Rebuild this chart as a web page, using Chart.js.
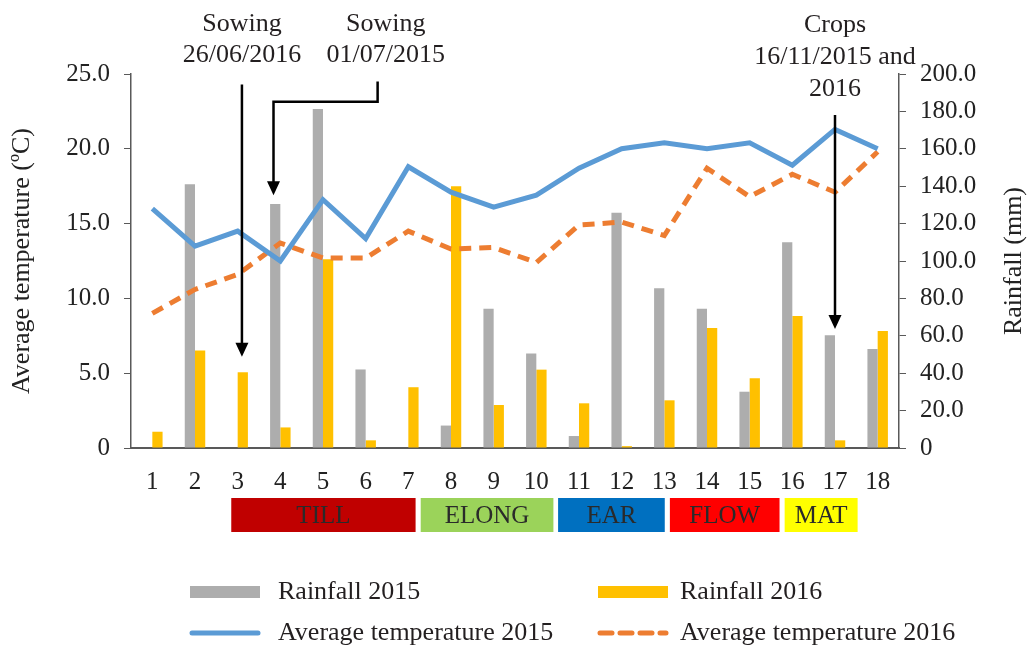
<!DOCTYPE html>
<html>
<head>
<meta charset="utf-8">
<script src="https://cdn.jsdelivr.net/npm/chart.js@4/dist/chart.umd.min.js"></script>
<style>
  html, body { margin: 0; padding: 0; background: #fff; }
  #box { width: 1030px; height: 648px; }
</style>
</head>
<body>
<div id="box"><canvas id="myChart"></canvas></div>
<script>
// dados
const semanas = ['1','2','3','4','5','6','7','8','9','10','11','12','13','14','15','16','17','18'];
const chuva2015 = [0, 141, 0, 130.5, 181.3, 42, 0, 12, 74.5, 50.6, 6.4, 125.8, 85.4, 74.5, 30.1, 110, 60.3, 52.9];
const chuva2016 = [8.7, 52.2, 40.5, 11, 101, 4.1, 32.5, 140, 23, 41.9, 23.9, 1, 25.5, 64.2, 37.3, 70.6, 4.1, 62.6];
const temp2015 = [16.0, 13.5, 14.5, 12.5, 16.6, 14.0, 18.8, 17.1, 16.1, 16.9, 18.7, 20.0, 20.4, 20.0, 20.4, 18.9, 21.3, 20.0];
const temp2016 = [9.0, 10.6, 11.6, 13.7, 12.7, 12.7, 14.5, 13.3, 13.4, 12.4, 14.9, 15.1, 14.2, 18.7, 16.8, 18.3, 17.1, 19.8];

// fases (em unidades de semana)
const fases = ['TILL', 'ELONG', 'EAR', 'FLOW', 'MAT'];
const faseInicio = [2.85, 7.29, 10.51, 13.13, 15.82];
const faseFim = [7.17, 10.40, 13.01, 15.70, 17.53];

const fonte = '"Liberation Serif", "Times New Roman", serif';
const corFases = ['#C00000', '#9BD35A', '#0070C0', '#FF0000', '#FFFF00'];

const ctx = document.getElementById('myChart').getContext('2d');

// desenha setas, textos, fases e legenda
const extras = {
  id: 'extras',
  afterDraw(chart) {
    const c = chart.ctx;
    const x = chart.scales.x;
    const yT = chart.scales.yTemp;
    const area = chart.chartArea;
    const w = x.width / semanas.length;
    const px = n => x.left + (n - 0.5) * w;
    const py = v => yT.getPixelForValue(v);

    c.save();
    c.fillStyle = '#231F20';
    c.strokeStyle = '#000';
    c.lineWidth = 2.5;
    c.font = '26px ' + fonte;
    c.textAlign = 'center';
    c.textBaseline = 'middle';

    function seta(pontos) {
      c.beginPath();
      c.moveTo(pontos[0][0], pontos[0][1]);
      for (let i = 1; i < pontos.length; i++) c.lineTo(pontos[i][0], pontos[i][1] - (i == pontos.length - 1 ? 8 : 0));
      c.stroke();
      const p = pontos[pontos.length - 1];
      c.beginPath();
      c.moveTo(p[0], p[1]);
      c.lineTo(p[0] - 6.5, p[1] - 14);
      c.lineTo(p[0] + 6.5, p[1] - 14);
      c.closePath();
      c.fillStyle = '#000';
      c.fill();
      c.fillStyle = '#231F20';
    }

    // Sowing 2016
    c.fillText('Sowing', px(3.1), 24);
    c.fillText('26/06/2016', px(3.1), 55);
    seta([[px(3.1), py(24.3)], [px(3.1), py(6.1)]]);

    // Sowing 2015
    c.fillText('Sowing', px(6.47), 24);
    c.fillText('01/07/2015', px(6.47), 55);
    seta([[px(6.28), py(24.5)], [px(6.28), py(23.15)], [px(3.84), py(23.15)], [px(3.84), py(16.9)]]);

    // Crops
    c.fillText('Crops', px(17), 25);
    c.fillText('16/11/2015 and', px(17), 57);
    c.fillText('2016', px(17), 89);
    seta([[px(17), py(22.26)], [px(17), py(7.95)]]);

    // titulo do eixo da direita, lido de baixo para cima
    c.save();
    c.translate(1014, (area.top + area.bottom) / 2);
    c.rotate(-Math.PI / 2);
    c.fillStyle = '#222';
    c.fillText('Rainfall (mm)', 0, 0);
    c.restore();

    // fases
    c.font = '25px ' + fonte;
    const topo = area.bottom + 50;
    for (let i = 0; i < fases.length; i++) {
      const a = px(faseInicio[i]), b = px(faseFim[i]);
      c.fillStyle = corFases[i];
      c.fillRect(a, topo, b - a, 34);
      c.fillStyle = '#2A2A2A';
      c.fillText(fases[i], (a + b) / 2, topo + 18);
    }

    // legenda 2x2
    c.font = '26px ' + fonte;
    const ds = chart.data.datasets;
    const posX = [190, 598];
    const posY = [592, 633];
    const ordem = [2, 3, 0, 1];
    c.textAlign = 'left';
    ordem.forEach((k, j) => {
      const d = ds[k];
      const lx = posX[j % 2], ly = posY[Math.floor(j / 2)];
      if (d.type == 'bar') {
        c.fillStyle = d.backgroundColor;
        c.fillRect(lx, ly - 6, 70, 12);
      } else {
        c.strokeStyle = d.borderColor;
        c.lineWidth = 5;
        c.lineCap = 'round';
        c.setLineDash(d.borderDash || []);
        c.beginPath();
        c.moveTo(lx + 2, ly);
        c.lineTo(lx + 68, ly);
        c.stroke();
        c.setLineDash([]);
      }
      c.fillStyle = '#231F20';
      c.fillText(d.label, lx + (j % 2 == 0 ? 88 : 82), ly);
    });
    c.restore();
  }
};

new Chart(ctx, {
  data: {
    labels: semanas,
    datasets: [
      {
        type: 'line',
        label: 'Average temperature 2015',
        data: temp2015,
        yAxisID: 'yTemp',
        borderColor: '#5B9BD5',
        borderWidth: 5,
        pointRadius: 0,
        tension: 0,
        order: 1
      },
      {
        type: 'line',
        label: 'Average temperature 2016',
        data: temp2016,
        yAxisID: 'yTemp',
        borderColor: '#ED7D31',
        borderWidth: 5,
        borderDash: [12, 8],
        pointRadius: 0,
        tension: 0,
        order: 1
      },
      {
        type: 'bar',
        label: 'Rainfall 2015',
        data: chuva2015,
        yAxisID: 'yChuva',
        backgroundColor: '#ADADAD',
        categoryPercentage: 0.48,
        barPercentage: 1,
        order: 2
      },
      {
        type: 'bar',
        label: 'Rainfall 2016',
        data: chuva2016,
        yAxisID: 'yChuva',
        backgroundColor: '#FFC000',
        categoryPercentage: 0.48,
        barPercentage: 1,
        order: 2
      }
    ]
  },
  options: {
    responsive: true,
    maintainAspectRatio: false,
    animation: false,
    layout: { padding: { top: 74, left: 0, right: 0, bottom: 0 } },
    plugins: {
      legend: { display: false },
      tooltip: { enabled: false }
    },
    scales: {
      x: {
        grid: { display: false, drawTicks: false },
        border: { display: true, color: '#595959', width: 2 },
        ticks: { color: '#222', font: { family: fonte, size: 25 }, padding: 19, maxRotation: 0 },
        afterFit: s => { s.height = 200; }
      },
      yTemp: {
        position: 'left',
        min: 0,
        max: 25,
        ticks: {
          stepSize: 5,
          color: '#222',
          padding: 14,
          font: { family: fonte, size: 25 },
          callback: v => v == 0 ? '0' : v.toFixed(1)
        },
        grid: { drawOnChartArea: false, tickLength: 7, color: '#595959' },
        border: { color: '#595959', width: 1.5 },
        title: {
          display: true,
          text: 'Average temperature (ºC)',
          color: '#222',
          font: { family: fonte, size: 26 },
          padding: { top: 7, bottom: 0 }
        },
        afterFit: s => { s.width = 131; }
      },
      yChuva: {
        position: 'right',
        min: 0,
        max: 200,
        ticks: {
          stepSize: 20,
          color: '#222',
          padding: 14,
          font: { family: fonte, size: 25 },
          callback: v => v == 0 ? '0' : v.toFixed(1)
        },
        grid: { drawOnChartArea: false, tickLength: 7, color: '#595959' },
        border: { color: '#595959', width: 1.5 },
        afterFit: s => { s.width = 131; }
      }
    }
  },
  plugins: [extras]
});
</script>
</body>
</html>
